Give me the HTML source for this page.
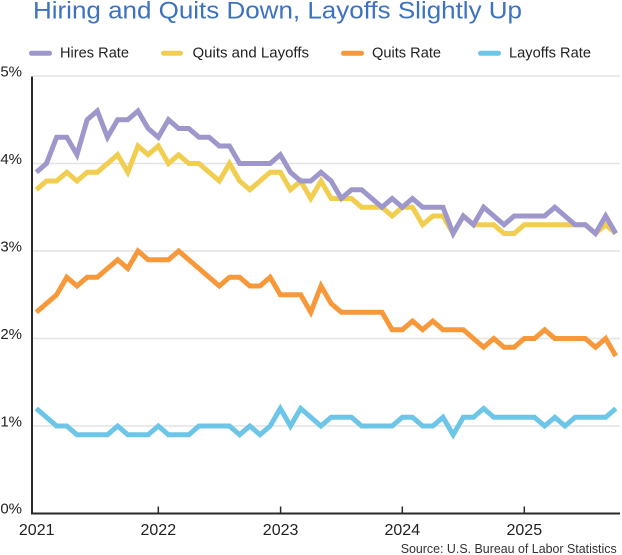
<!DOCTYPE html>
<html>
<head>
<meta charset="utf-8">
<style>
  html, body { margin: 0; padding: 0; background: #ffffff; }
  body { width: 622px; height: 555px; overflow: hidden; }
  svg { display: block; }
  text { font-family: "Liberation Sans", "DejaVu Sans", sans-serif; }
</style>
</head>
<body>
<svg width="622" height="555" viewBox="0 0 622 555" xmlns="http://www.w3.org/2000/svg">
  <rect width="622" height="555" fill="#ffffff"/>

  <!-- Title -->
  <text x="33" y="18.5" font-size="24" fill="#3c72c0" textLength="489" lengthAdjust="spacingAndGlyphs">Hiring and Quits Down, Layoffs Slightly Up</text>

  <!-- Legend -->
  <g stroke-width="5" stroke-linecap="round">
    <line x1="31.5" y1="53.3" x2="49.5" y2="53.3" stroke="#9d97cc"/>
    <line x1="163.5" y1="53.3" x2="180.5" y2="53.3" stroke="#f1ce50"/>
    <line x1="343.5" y1="53.3" x2="361.5" y2="53.3" stroke="#f7983a"/>
    <line x1="480.5" y1="53.3" x2="498.5" y2="53.3" stroke="#6dc6e8"/>
  </g>
  <g font-size="14.5" fill="#222">
    <text x="60" y="57.5" textLength="69" lengthAdjust="spacingAndGlyphs">Hires Rate</text>
    <text x="192.5" y="57.5" textLength="116.5" lengthAdjust="spacingAndGlyphs">Quits and Layoffs</text>
    <text x="372" y="57.5" textLength="69" lengthAdjust="spacingAndGlyphs">Quits Rate</text>
    <text x="509" y="57.5" textLength="82" lengthAdjust="spacingAndGlyphs">Layoffs Rate</text>
  </g>

  <!-- Gridlines -->
  <g stroke="#e4e4e4" stroke-width="1.5">
    <line x1="33" y1="76" x2="620" y2="76"/>
    <line x1="33" y1="163.5" x2="620" y2="163.5"/>
    <line x1="33" y1="251" x2="620" y2="251"/>
    <line x1="33" y1="338.5" x2="620" y2="338.5"/>
    <line x1="33" y1="426" x2="620" y2="426"/>
  </g>

  <!-- Y labels -->
  <g font-size="15" fill="#222" text-anchor="end">
    <text x="22" y="76.7">5%</text>
    <text x="22" y="164.2">4%</text>
    <text x="22" y="251.7">3%</text>
    <text x="22" y="339.2">2%</text>
    <text x="22" y="426.7">1%</text>
    <text x="22" y="513.5">0%</text>
  </g>

  <!-- Axes -->
  <line x1="32" y1="76.5" x2="32" y2="514.5" stroke="#2a2a2a" stroke-width="2"/>
  <line x1="31" y1="513.5" x2="620" y2="513.5" stroke="#2a2a2a" stroke-width="2"/>
  <g stroke="#2a2a2a" stroke-width="1.5">
    <line x1="158.3" y1="506.5" x2="158.3" y2="513"/>
    <line x1="280.6" y1="506.5" x2="280.6" y2="513"/>
    <line x1="402.3" y1="506.5" x2="402.3" y2="513"/>
    <line x1="524.3" y1="506.5" x2="524.3" y2="513"/>
  </g>

  <!-- X labels -->
  <g font-size="16" fill="#222" text-anchor="middle">
    <text x="36.7" y="535">2021</text>
    <text x="158.3" y="535">2022</text>
    <text x="280.6" y="535">2023</text>
    <text x="402.3" y="535">2024</text>
    <text x="524.3" y="535">2025</text>
  </g>

  <!-- Source -->
  <text x="400.7" y="553" font-size="13" fill="#333" textLength="216" lengthAdjust="spacingAndGlyphs">Source: U.S. Bureau of Labor Statistics</text>

  <!-- Series -->
  <g transform="translate(36.3,513.5) scale(10.167,-87.5)" fill="none" stroke-width="5" stroke-linejoin="miter" stroke-miterlimit="4">
    <!-- Layoffs Rate -->
    <polyline vector-effect="non-scaling-stroke" stroke="#6dc6e8" points="
      0,1.2 1,1.1 2,1.0 3,1.0 4,0.9 5,0.9 6,0.9 7,0.9 8,1.0 9,0.9 10,0.9 11,0.9
      12,1.0 13,0.9 14,0.9 15,0.9 16,1.0 17,1.0 18,1.0 19,1.0 20,0.9 21,1.0 22,0.9 23,1.0
      24,1.2 25,1.0 26,1.2 27,1.1 28,1.0 29,1.1 30,1.1 31,1.1 32,1.0 33,1.0 34,1.0 35,1.0
      36,1.1 37,1.1 38,1.0 39,1.0 40,1.1 41,0.9 42,1.1 43,1.1 44,1.2 45,1.1 46,1.1 47,1.1
      48,1.1 49,1.1 50,1.0 51,1.1 52,1.0 53,1.1 54,1.1 55,1.1 56,1.1 57,1.2"/>
    <!-- Quits Rate -->
    <polyline vector-effect="non-scaling-stroke" stroke="#f7983a" points="
      0,2.3 1,2.4 2,2.5 3,2.7 4,2.6 5,2.7 6,2.7 7,2.8 8,2.9 9,2.8 10,3.0 11,2.9
      12,2.9 13,2.9 14,3.0 15,2.9 16,2.8 17,2.7 18,2.6 19,2.7 20,2.7 21,2.6 22,2.6 23,2.7
      24,2.5 25,2.5 26,2.5 27,2.3 28,2.6 29,2.4 30,2.3 31,2.3 32,2.3 33,2.3 34,2.3 35,2.1
      36,2.1 37,2.2 38,2.1 39,2.2 40,2.1 41,2.1 42,2.1 43,2.0 44,1.9 45,2.0 46,1.9 47,1.9
      48,2.0 49,2.0 50,2.1 51,2.0 52,2.0 53,2.0 54,2.0 55,1.9 56,2.0 57,1.8"/>
    <!-- Quits and Layoffs -->
    <polyline vector-effect="non-scaling-stroke" stroke="#f1ce50" points="
      0,3.7 1,3.8 2,3.8 3,3.9 4,3.8 5,3.9 6,3.9 7,4.0 8,4.1 9,3.9 10,4.2 11,4.1
      12,4.2 13,4.0 14,4.1 15,4.0 16,4.0 17,3.9 18,3.8 19,4.0 20,3.8 21,3.7 22,3.8 23,3.9
      24,3.9 25,3.7 26,3.8 27,3.6 28,3.8 29,3.6 30,3.6 31,3.6 32,3.5 33,3.5 34,3.5 35,3.4
      36,3.5 37,3.5 38,3.3 39,3.4 40,3.4 41,3.2 42,3.4 43,3.3 44,3.3 45,3.3 46,3.2 47,3.2
      48,3.3 49,3.3 50,3.3 51,3.3 52,3.3 53,3.3 54,3.3 55,3.2 56,3.3 57,3.2"/>
    <!-- Hires Rate -->
    <polyline vector-effect="non-scaling-stroke" stroke="#9d97cc" points="
      0,3.9 1,4.0 2,4.3 3,4.3 4,4.1 5,4.5 6,4.6 7,4.3 8,4.5 9,4.5 10,4.6 11,4.4
      12,4.3 13,4.5 14,4.4 15,4.4 16,4.3 17,4.3 18,4.2 19,4.2 20,4.0 21,4.0 22,4.0 23,4.0
      24,4.1 25,3.9 26,3.8 27,3.8 28,3.9 29,3.8 30,3.6 31,3.7 32,3.7 33,3.6 34,3.5 35,3.6
      36,3.5 37,3.6 38,3.5 39,3.5 40,3.5 41,3.2 42,3.4 43,3.3 44,3.5 45,3.4 46,3.3 47,3.4
      48,3.4 49,3.4 50,3.4 51,3.5 52,3.4 53,3.3 54,3.3 55,3.2 56,3.4 57,3.2"/>
  </g>
</svg>
</body>
</html>
